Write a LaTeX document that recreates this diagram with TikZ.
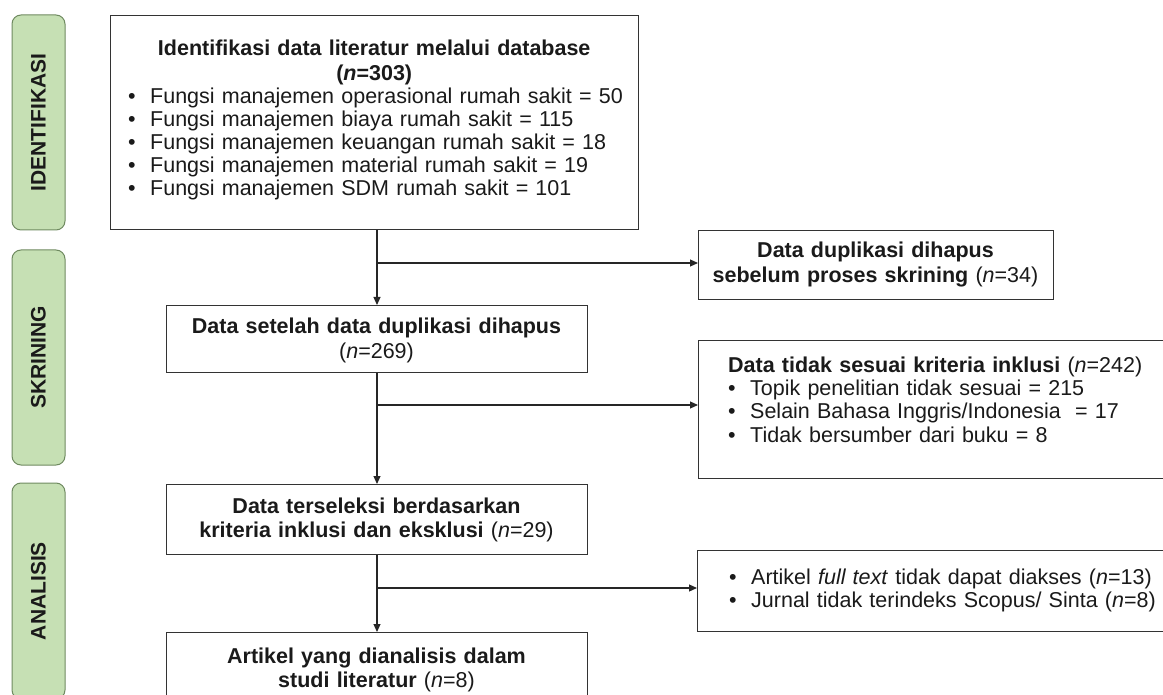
\documentclass[tikz,border=0pt]{standalone}
\usepackage{fontspec}
\setmainfont{Liberation Sans}
\usetikzlibrary{arrows.meta}
\definecolor{barfill}{HTML}{C6E0B4}
\definecolor{barline}{HTML}{6F8A60}
\definecolor{boxline}{HTML}{333333}
\definecolor{txtcol}{HTML}{1A1A1A}
\newcommand{\bul}{\makebox[22pt][l]{\textbullet}}
\newcommand{\bline}[1]{\mbox{\bul #1}}
\tikzset{
  bar/.style={draw=barline, fill=barfill, line width=1pt, rounded corners=9pt,
    inner sep=0pt, rotate=90, text=txtcol, font=\fontsize{21}{24}\selectfont\bfseries},
  box/.style={draw=boxline, line width=1.4pt, inner sep=0pt, fill=white},
  body/.style={font=\fontsize{21.5}{24.5}\selectfont, text=txtcol, inner sep=0pt},
  listbody/.style={body, font=\fontsize{21.5}{23.5}\selectfont},
  conn/.style={line width=1.2pt, draw=black!85},
  arr/.style={conn, -{Triangle[length=8pt,width=7pt]}}
}
\begin{document}
\begin{tikzpicture}[x=1pt,y=-1pt]
\useasboundingbox (0,0) rectangle (1163,695);
\clip (0,0) rectangle (1163,695);
% phase bars
\node[bar, minimum width=215pt, minimum height=53pt] (barI) at (38.5,122.5) {IDENTIFIKASI};
\node[bar, minimum width=215pt, minimum height=53pt] (barS) at (38.5,357.5) {SKRINING};
\node[bar, minimum width=216pt, minimum height=53pt] (barA) at (38.5,591) {ANALISIS};
% boxes
\node[box, anchor=north west, minimum width=528pt, minimum height=214pt] (b1) at (110,15) {};
\node[box, anchor=north west, minimum width=355pt, minimum height=69pt] (b2) at (698,230) {};
\node[box, anchor=north west, minimum width=421pt, minimum height=67pt] (b3) at (166,305) {};
\node[box, anchor=north west, minimum width=480pt, minimum height=138pt] (b4) at (698,340) {};
\node[box, anchor=north west, minimum width=421pt, minimum height=70pt] (b5) at (166,484) {};
\node[box, anchor=north west, minimum width=421pt, minimum height=75pt] (b6) at (166,632) {};
\node[box, anchor=north west, minimum width=480pt, minimum height=81pt] (b7) at (697,550) {};
% texts
\node[body, anchor=base west, text width=492pt] (t1) at (128,56) {%
  {\centering\bfseries Identifikasi data literatur melalui database\\(\textit{n}=303)\par}
  \raggedright\baselineskip=23pt
  \bline{Fungsi manajemen operasional rumah sakit = 50}\\
  \bline{Fungsi manajemen biaya rumah sakit = 115}\\
  \bline{Fungsi manajemen keuangan rumah sakit = 18}\\
  \bline{Fungsi manajemen material rumah sakit = 19}\\
  \bline{Fungsi manajemen SDM rumah sakit = 101}\par};
\node[body, anchor=base, text width=400pt, align=center] (t2) at (875.5,258) {%
  \textbf{Data duplikasi dihapus}\\\textbf{sebelum proses skrining} (\textit{n}=34)};
\node[body, anchor=base, text width=400pt, align=center] (t3) at (376.5,334) {%
  \textbf{Data setelah data duplikasi dihapus}\\(\textit{n}=269)};
\node[listbody, anchor=base west, text width=430pt, align=left] (t4) at (728,372) {%
  \textbf{Data tidak sesuai kriteria inklusi} (\textit{n}=242)\\
  \bul Topik penelitian tidak sesuai = 215\\
  \bul Selain Bahasa Inggris/Indonesia \ = 17\\
  \bul Tidak bersumber dari buku = 8};
\node[body, anchor=base, text width=400pt, align=center] (t5) at (376.5,513) {%
  \textbf{Data terseleksi berdasarkan}\\\textbf{kriteria inklusi dan eksklusi} (\textit{n}=29)};
\node[listbody, anchor=base west, text width=430pt, align=left] (t7) at (729,584) {%
  \bul Artikel \textit{full text} tidak dapat diakses (\textit{n}=13)\\
  \bul Jurnal tidak terindeks Scopus/ Sinta (\textit{n}=8)};
\node[body, anchor=base, text width=400pt, align=center] (t6) at (376.5,663) {%
  \textbf{Artikel yang dianalisis dalam}\\\textbf{studi literatur} (\textit{n}=8)};
% connectors
\coordinate (j1) at (377,263);
\coordinate (j2) at (377,405);
\coordinate (j3) at (377,588);
\draw[arr] (j1 |- b1.south) -- (j1 |- b3.north);
\draw[arr] (j1) -- (j1 -| b2.west);
\draw[arr] (j2 |- b3.south) -- (j2 |- b5.north);
\draw[arr] (j2) -- (j2 -| b4.west);
\draw[arr] (j3 |- b5.south) -- (j3 |- b6.north);
\draw[arr] (j3) -- (j3 -| b7.west);
\end{tikzpicture}
\end{document}
